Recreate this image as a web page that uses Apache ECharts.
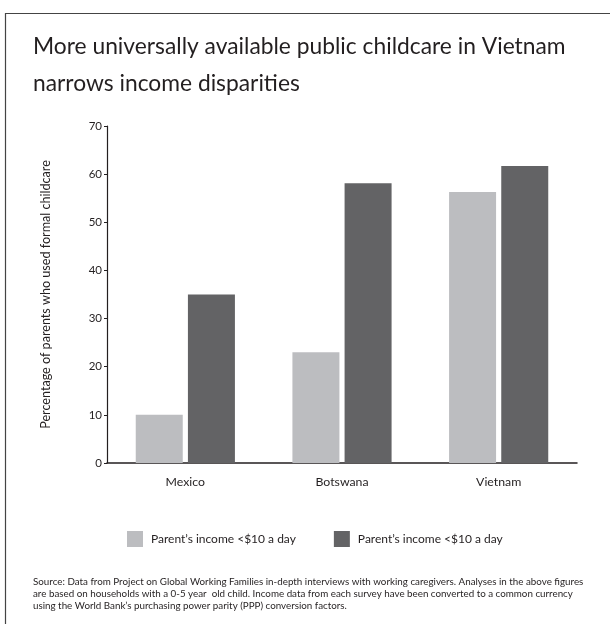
<!DOCTYPE html>
<html>
<head>
<meta charset="utf-8">
<script src="https://cdn.jsdelivr.net/npm/echarts@6/dist/echarts.min.js"></script>
<style>
html,body{margin:0;padding:0;background:#fff;}
#main{width:610px;height:624px;}
</style>
</head>
<body>
<div id="main"></div>
<script>
var categories = ['Mexico', 'Botswana', 'Vietnam'];
var lowIncome = [10, 23, 56.3];
var highIncome = [35, 58.1, 61.7];
var legendLabels = ['Parent\u2019s income <$10 a day', 'Parent\u2019s income <$10 a day'];
var yTicks = [0, 10, 20, 30, 40, 50, 60, 70];
var titleLines = ['More universally available public childcare in Vietnam', 'narrows income disparities'];
var yAxisName = 'Percentage of parents who used formal childcare';
var sourceLines = [
  'Source: Data from Project on Global Working Families in-depth interviews with working caregivers. Analyses in the above figures',
  'are based on households with a 0-5 year  old child. Income data from each survey have been converted to a common currency',
  'using the World Bank\u2019s purchasing power parity (PPP) conversion factors.'
];

var FONT = 'Lato';
var chart = echarts.init(document.getElementById('main'), null, {renderer: 'canvas'});
var seriesNames = ['low', 'high'];
var option = {
  animation: false,
  backgroundColor: '#fff',
  textStyle: {fontFamily: FONT},
  graphic: [
    {type: 'rect', shape: {x: 5.5, y: 13.5, width: 700, height: 700}, style: {fill: 'none', stroke: '#444', lineWidth: 1.2}, silent: true},
    {type: 'text', left: 33, top: 28, style: {text: titleLines.join('\n'), fontFamily: FONT, fontSize: 22.8, lineHeight: 37, fill: '#231f20'}},
    {type: 'text', left: 33, top: 576, style: {text: sourceLines.join('\n'), fontFamily: FONT, fontSize: 9.8, lineHeight: 12, fill: '#231f20'}}
  ],
  legend: {
    data: seriesNames,
    left: 122,
    top: 526,
    itemWidth: 16,
    itemHeight: 16,
    itemGap: 38,
    icon: 'rect',
    textStyle: {fontSize: 12, color: '#231f20', fontFamily: FONT, padding: [0, 0, 0, 3]},
    formatter: function (n) { return legendLabels[seriesNames.indexOf(n)]; }
  },
  grid: {left: 107, right: 33, top: 126, bottom: 161, containLabel: false},
  xAxis: {
    type: 'category',
    data: categories,
    axisLine: {lineStyle: {color: '#231f20', width: 1.5}},
    axisTick: {show: false},
    axisLabel: {fontSize: 12.3, color: '#231f20', margin: 13, fontFamily: FONT}
  },
  yAxis: {
    type: 'value',
    min: 0, max: 70, interval: 10,
    name: yAxisName,
    nameLocation: 'middle',
    nameGap: 55,
    nameTextStyle: {fontSize: 12.6, color: '#231f20', fontFamily: FONT},
    axisLine: {show: true, lineStyle: {color: '#231f20', width: 1.2}},
    axisTick: {show: true, length: 3, lineStyle: {color: '#231f20'}},
    splitLine: {show: false},
    axisLabel: {fontSize: 11.5, color: '#231f20', margin: 5, fontFamily: FONT,
      formatter: function (v) { return yTicks.indexOf(v) >= 0 ? String(v) : ''; }}
  },
  series: [
    {name: seriesNames[0], type: 'bar', data: lowIncome, barWidth: 47, barGap: '11%', itemStyle: {color: '#bcbdc0'}},
    {name: seriesNames[1], type: 'bar', data: highIncome, barWidth: 47, itemStyle: {color: '#636365'}}
  ]
};
chart.setOption(option);
</script>
</body>
</html>
